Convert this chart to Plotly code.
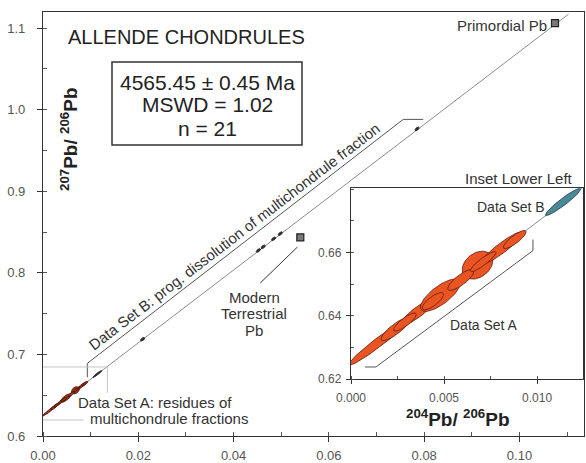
import numpy as np
import plotly.graph_objects as go

# ---------------- data ----------------
# Isochron (204Pb/206Pb vs 207Pb/206Pb)
iso_x = [0.0, 0.1103]
iso_y = [0.625, 1.117]

# Data Set A: residues of multichondrule fractions (x, 1s, y, 1s, rho)
a_x   = [0.0015, 0.0024, 0.0036, 0.0048, 0.0068, 0.0059, 0.0081, 0.0088, 0.0029, 0.0044, 0.0071]
a_sx  = [0.00163, 0.000785, 0.000953, 0.001066, 0.000824, 0.000702, 0.001121, 0.000611, 0.000611, 0.000574, 0.000692]
a_y   = [0.6317, 0.6358, 0.6412, 0.6465, 0.6560, 0.6513, 0.6614, 0.6641, 0.6380, 0.6446, 0.6571]
a_sy  = [0.00735, 0.00366, 0.00438, 0.00511, 0.00442, 0.00330, 0.00512, 0.00286, 0.00286, 0.00273, 0.00318]
a_rho = [0.972, 0.849, 0.897, 0.742, 0.325, 0.812, 0.925, 0.842, 0.842, 0.776, 0.903]

# Data Set B: progressive dissolution of multichondrule fraction
b_x   = [0.0114, 0.0209, 0.0452, 0.0462, 0.0484, 0.0498, 0.0785]
b_sx  = [0.000946, 0.000457, 0.000457, 0.000457, 0.000457, 0.000457, 0.000457]
b_y   = [0.6760, 0.7186, 0.8274, 0.8318, 0.8417, 0.8480, 0.9764]
b_sy  = [0.00429, 0.00228, 0.00228, 0.00228, 0.00228, 0.00228, 0.00228]
b_rho = [0.948, 0.587, 0.587, 0.587, 0.587, 0.587, 0.587]

# Reference Pb compositions
ref_names = ["Primordial Pb", "Modern Terrestrial Pb"]
ref_x = [0.10745, 0.0540]
ref_y = [1.1060, 0.8435]

# Brackets / guide lines (data coordinates)
brB_x = [0.0093, 0.0093, 0.0756, 0.0798]
brB_y = [0.672, 0.689, 0.988, 0.988]
brA_x = [0.00075, 0.00134, 0.00978, 0.00978]
brA_y = [0.6238, 0.6238, 0.6606, 0.6641]
box_top_x = [0.0, 0.0135, 0.0135]
box_top_y = [0.6846, 0.6846, 0.6530]
box_bot_x = [0.0, 0.0085]
box_bot_y = [0.6196, 0.6196]
lead_x = [0.0456, 0.0534]
lead_y = [0.7875, 0.8316]

# Summary
age_lines = ["4565.45 \u00b1 0.45 Ma", "MSWD = 1.02", "n = 21"]

# ---------------- layout geometry ----------------
W_IMG, H_IMG = 586, 463
L, T, R, B = 43, 12, 2, 27
PW, PH = W_IMG - L - R, H_IMG - T - B


def px(x):
    return (x - L) / PW


def py(y):
    return (T + PH - y) / PH


FONT = "Liberation Sans, Arial, Helvetica, sans-serif"
TXT = "#333333"


def ellipse(cx, sx, cy, sy, rho, n=72):
    t = np.linspace(0, 2 * np.pi, n)
    ex = cx + sx * np.cos(t)
    ey = cy + sy * (rho * np.cos(t) + np.sqrt(1 - rho ** 2) * np.sin(t))
    return ex, ey


fig = go.Figure()

# isochron lines
for xa, ya in (("x", "y"), ("x2", "y2")):
    fig.add_trace(go.Scatter(x=iso_x, y=iso_y, mode="lines", xaxis=xa, yaxis=ya,
                             line=dict(color="#8c8c8c", width=1), hoverinfo="skip",
                             showlegend=False))

# ellipses main plot
for i in range(len(a_x)):
    ex, ey = ellipse(a_x[i], a_sx[i], a_y[i], a_sy[i], a_rho[i])
    fig.add_trace(go.Scatter(x=ex, y=ey, mode="lines", fill="toself", xaxis="x", yaxis="y",
                             fillcolor="#a8331a", line=dict(color="#3a1208", width=0.8),
                             hoverinfo="skip", showlegend=False))
for i in range(len(b_x)):
    ex, ey = ellipse(b_x[i], b_sx[i], b_y[i], b_sy[i], b_rho[i])
    fig.add_trace(go.Scatter(x=ex, y=ey, mode="lines", fill="toself", xaxis="x", yaxis="y",
                             fillcolor="#333333", line=dict(color="#222222", width=0.8),
                             hoverinfo="skip", showlegend=False))

# ellipses inset
for i in range(len(a_x)):
    ex, ey = ellipse(a_x[i], a_sx[i], a_y[i], a_sy[i], a_rho[i])
    fig.add_trace(go.Scatter(x=ex, y=ey, mode="lines", fill="toself", xaxis="x2", yaxis="y2",
                             fillcolor="#ea5422", line=dict(color="#5a1e0c", width=0.8),
                             hoverinfo="skip", showlegend=False))
for i in range(len(b_x)):
    ex, ey = ellipse(b_x[i], b_sx[i], b_y[i], b_sy[i], b_rho[i])
    fig.add_trace(go.Scatter(x=ex, y=ey, mode="lines", fill="toself", xaxis="x2", yaxis="y2",
                             fillcolor="#4a8898", line=dict(color="#1f3c44", width=0.8),
                             hoverinfo="skip", showlegend=False))

# brackets and guides
fig.add_trace(go.Scatter(x=brB_x, y=brB_y, mode="lines", xaxis="x", yaxis="y",
                         line=dict(color="#555555", width=1), hoverinfo="skip", showlegend=False))
fig.add_trace(go.Scatter(x=box_top_x, y=box_top_y, mode="lines", xaxis="x", yaxis="y",
                         line=dict(color="#c4c4c4", width=1), hoverinfo="skip", showlegend=False))
fig.add_trace(go.Scatter(x=box_bot_x, y=box_bot_y, mode="lines", xaxis="x", yaxis="y",
                         line=dict(color="#c4c4c4", width=1), hoverinfo="skip", showlegend=False))
fig.add_trace(go.Scatter(x=lead_x, y=lead_y, mode="lines", xaxis="x", yaxis="y",
                         line=dict(color="#333333", width=1), hoverinfo="skip", showlegend=False))
fig.add_trace(go.Scatter(x=brA_x, y=brA_y, mode="lines", xaxis="x2", yaxis="y2",
                         line=dict(color="#555555", width=1), hoverinfo="skip", showlegend=False))

# reference Pb squares
fig.add_trace(go.Scatter(x=ref_x, y=ref_y, mode="markers", xaxis="x", yaxis="y",
                         marker=dict(symbol="square", size=7, color="#7a7a7a",
                                     line=dict(color="#222222", width=1.2)),
                         text=ref_names, hoverinfo="text", showlegend=False, cliponaxis=False))

tickfont = dict(family=FONT, size=13, color="#555555")
fig.update_layout(
    template="none",
    width=W_IMG, height=H_IMG,
    margin=dict(l=L, r=R, t=T, b=B, pad=0),
    paper_bgcolor="white", plot_bgcolor="white",
    showlegend=False,
    xaxis=dict(range=[0, PW / 4765.0], domain=[0, 1], showgrid=False, zeroline=False,
               automargin=False,
               showline=True, linecolor="#333333", linewidth=1.3, mirror=True,
               tickmode="array", tickvals=[0, 0.02, 0.04, 0.06, 0.08, 0.10],
               ticktext=["0.00", "0.02", "0.04", "0.06", "0.08", "0.10"],
               ticks="outside", ticklen=5, tickcolor="#333333", tickfont=tickfont,
               minor=dict(dtick=0.01, tick0=0, ticks="inside", ticklen=4, tickcolor="#555555"),
               ticklabelstandoff=2),
    yaxis=dict(range=[0.6, 0.6 + PH / 816.0], domain=[0, 1], showgrid=False, zeroline=False,
               automargin=False,
               showline=True, linecolor="#333333", linewidth=1.3, mirror=True,
               tickmode="array", tickvals=[0.6, 0.7, 0.8, 0.9, 1.0, 1.1],
               ticktext=["0.6", "0.7", "0.8", "0.9", "1.0", "1.1"],
               ticks="outside", ticklen=5, tickcolor="#333333", tickfont=tickfont,
               minor=dict(dtick=0.05, tick0=0.6, ticks="inside", ticklen=4, tickcolor="#555555"),
               ticklabelstandoff=9),
    xaxis2=dict(range=[0, 0.01247], domain=[px(351), px(583)], anchor="y2",
                automargin=False,
                showgrid=False, zeroline=False, showline=True, linecolor="#333333",
                linewidth=1.3, mirror=True,
                tickmode="array", tickvals=[0, 0.005, 0.010],
                ticktext=["0.000", "0.005", "0.010"],
                ticks="outside", ticklen=4, tickcolor="#333333",
                tickfont=dict(family=FONT, size=12, color="#555555"),
                minor=dict(dtick=0.0025, tick0=0, ticks="inside", ticklen=3, tickcolor="#555555"),
                ticklabelstandoff=3),
    yaxis2=dict(range=[0.62, 0.6803], domain=[py(379), py(188.3)], anchor="x2",
                automargin=False,
                showgrid=False, zeroline=False, showline=True, linecolor="#333333",
                linewidth=1.3, mirror=True,
                tickmode="array", tickvals=[0.62, 0.64, 0.66],
                ticktext=["0.62", "0.64", "0.66"],
                ticks="outside", ticklen=4, tickcolor="#333333",
                tickfont=dict(family=FONT, size=12, color="#555555"),
                minor=dict(dtick=0.01, tick0=0.62, ticks="inside", ticklen=3, tickcolor="#555555"),
                ticklabelstandoff=2),
)

# inset background (white)
fig.add_shape(type="rect", xref="paper", yref="paper", x0=px(351), x1=px(583),
              y0=py(379), y1=py(188.3), fillcolor="white", line=dict(width=0), layer="below")

# summary box
fig.add_shape(type="rect", xref="paper", yref="paper", x0=px(112), x1=px(302),
              y0=py(145), y1=py(62), line=dict(color="#333333", width=1.5), fillcolor="rgba(0,0,0,0)")

ann = []


def add_text(text, x, y, size, color=TXT, angle=0, xanchor="center", bold=False):
    ann.append(dict(text=(f"<b>{text}</b>" if bold else text), x=px(x), y=py(y),
                    xref="paper", yref="paper", showarrow=False, textangle=angle,
                    xanchor=xanchor, yanchor="middle",
                    font=dict(family=FONT, size=size, color=color)))


add_text("ALLENDE CHONDRULES", 186.5, 37, 20, "#222222")
for line, yy in zip(age_lines, [82, 105, 128]):
    add_text(line, 207, yy, 21, "#222222")
add_text("Primordial Pb", 549, 25, 15, xanchor="right")
add_text("Modern", 254, 297, 15)
add_text("Terrestrial", 254, 313, 15)
add_text("Pb", 254, 330, 15)
add_text("Data Set B: prog. dissolution of multichondrule fraction", 234, 236, 15, angle=-37.5)
add_text("Data Set A: residues of", 155, 402, 15)
add_text("multichondrule fractions", 169, 418, 15)
add_text("Inset Lower Left", 519, 178, 15)
add_text("Data Set B", 511, 207, 14)
add_text("Data Set A", 484, 325, 14)
add_text("<sup>207</sup>Pb/ <sup>206</sup>Pb", 69, 139, 19, "#222222", angle=-90, bold=True)
add_text("<sup>204</sup>Pb/ <sup>206</sup>Pb", 458, 418, 19, "#222222", bold=True)

fig.update_layout(annotations=ann)
fig.write_html("out.html",
               config={"displayModeBar": False},
               post_script="document.body.style.margin='0px';document.body.style.padding='0px';")
